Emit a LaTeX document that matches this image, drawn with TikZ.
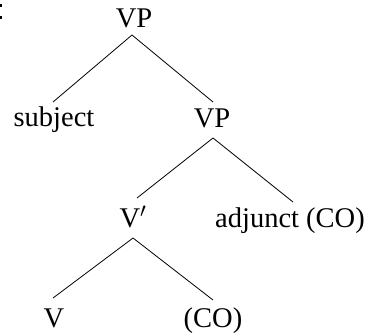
\documentclass[tikz,border=0pt]{standalone}
\usepackage{fontspec}
\setmainfont{Liberation Serif}
\begin{document}
\begin{tikzpicture}[x=1pt,y=-1pt,
  lbl/.style={anchor=base,inner sep=0pt,font=\fontsize{28.5}{32}\selectfont},
  branch/.style={line width=0.8pt}]
\useasboundingbox (0,0) rectangle (372,333);
\fill (0,4) rectangle (2,7);
\fill (0,16) rectangle (2,19);
\node[lbl] (vp1) at (134,27) {VP};
\node[lbl] (subj) at (54,126) {subject};
\node[lbl] (vp2) at (212,127) {VP};
\node[lbl] (vbar) at (133,227) {V$'$};
\node[lbl] (adj) at (290,227) {adjunct (CO)};
\node[lbl] (v) at (54,327) {V};
\node[lbl] (co) at (213,327) {(CO)};
\coordinate (a1) at (132,35);
\coordinate (e1) at (53,102);
\coordinate (e2) at (213,102);
\coordinate (a2) at (213,138);
\coordinate (e3) at (137,198);
\coordinate (e4) at (293,202);
\coordinate (a3) at (133,238);
\coordinate (e5) at (53,298);
\coordinate (e6) at (213,300);
\draw[branch] (a1) -- (e1);
\draw[branch] (a1) -- (e2);
\draw[branch] (a2) -- (e3);
\draw[branch] (a2) -- (e4);
\draw[branch] (a3) -- (e5);
\draw[branch] (a3) -- (e6);
\end{tikzpicture}
\end{document}
